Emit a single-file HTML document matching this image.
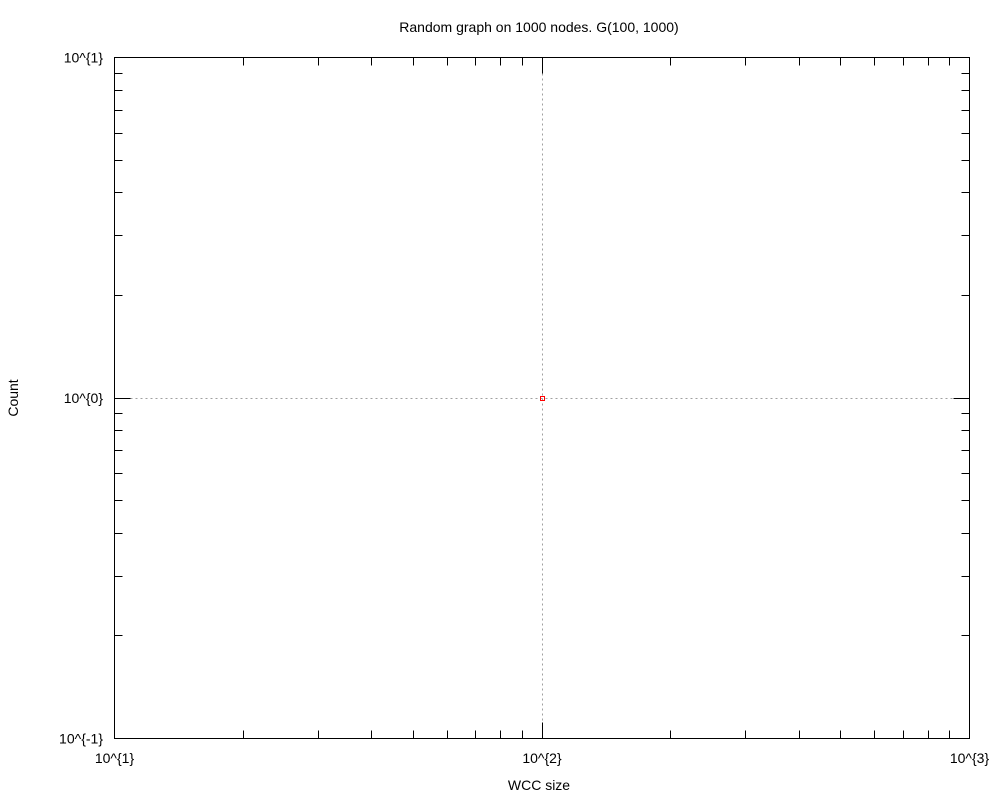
<!DOCTYPE html>
<html><head><meta charset="utf-8"><style>
html,body{margin:0;padding:0;background:#fff;}
svg{display:block;font-family:"Liberation Sans",Arial,sans-serif;font-size:14px;}
</style></head><body>
<svg id="chart" width="1000" height="800" viewBox="0 0 1000 800">
<text x="539" y="32" text-anchor="middle" fill="#000">Random graph on 1000 nodes. G(100, 1000)</text>
<text x="539" y="790" text-anchor="middle" fill="#000">WCC size</text>
<text transform="translate(18,398) rotate(-90)" text-anchor="middle" fill="#000">Count</text>
<g id="grid"></g><g id="ticks"></g><g id="labels"></g>
<rect x="114.5" y="57.5" width="855" height="681" fill="none" stroke="#000" stroke-width="1"/>
<g id="points"></g>
</svg>
<script>
const xTickExps = [1, 2, 3];
const yTickExps = [-1, 0, 1];
const xTickLabels = ["10^{1}", "10^{2}", "10^{3}"];
const yTickLabels = ["10^{-1}", "10^{0}", "10^{1}"];
const wccSizes = [100];
const counts = [1];
const NS = "http://www.w3.org/2000/svg";
const L = 114.5, R = 969.5, T = 57.5, B = 738.5;
function xs(v){ return L + (Math.log10(v) - 1) / 2 * (R - L); }
function ys(v){ return B - (Math.log10(v) + 1) / 2 * (B - T); }
function px(v){ return Math.floor(v) + 0.5; }
function mk(tag, attrs, parent){ const e = document.createElementNS(NS, tag); for (const k in attrs) e.setAttribute(k, attrs[k]); document.getElementById(parent).appendChild(e); return e; }
xTickExps.forEach(ex => { const x = px(xs(Math.pow(10, ex))); if (ex > 1 && ex < 3) {
  const g = mk('line', {x1:x, x2:x, y1:T+16, y2:B-16, stroke:'#a0a0a0', 'stroke-dasharray':'2,3'}, 'grid');
  
   } });
yTickExps.forEach(ex => { const y = px(ys(Math.pow(10, ex))); if (ex > -1 && ex < 1) {
  const g = mk('line', {x1:L+16, x2:R-16, y1:y, y2:y, stroke:'#a0a0a0', 'stroke-dasharray':'2,3'}, 'grid');
  
   } });
for (let d = 1; d <= 2; d++) for (let m = 1; m <= 10; m++) {
  if ((d === 1 && m === 1) || (d === 2 && m === 10)) continue;
  const v = m * Math.pow(10, d); const len = (m === 1 || m === 10) ? 16 : 8;
  const x = px(xs(v));
  const t1 = mk('line', {x1:x, x2:x, y1:B, y2:B-len, stroke:'#000'}, 'ticks');
  
  
  const t2 = mk('line', {x1:x, x2:x, y1:T, y2:T+len, stroke:'#000'}, 'ticks');
  
  
}
for (let d = -1; d <= 0; d++) for (let m = 1; m <= 10; m++) {
  if ((d === -1 && m === 1) || (d === 0 && m === 10)) continue;
  const v = m * Math.pow(10, d); const len = (m === 1 || m === 10) ? 16 : 8;
  const y = px(ys(v));
  const t1 = mk('line', {x1:L, x2:L+len, y1:y, y2:y, stroke:'#000'}, 'ticks');
  
  
  const t2 = mk('line', {x1:R, x2:R-len, y1:y, y2:y, stroke:'#000'}, 'ticks');
  
  
}
xTickExps.forEach((ex, i) => {
  const t = mk('text', {x: xs(Math.pow(10, ex)), y: 763, 'text-anchor':'middle', fill:'#000'}, 'labels');
  t.textContent = xTickLabels[i];
  
  
});
yTickExps.forEach((ex, i) => {
  const t = mk('text', {x: 103, y: ys(Math.pow(10, ex)) + 5, 'text-anchor':'end', fill:'#000'}, 'labels');
  t.textContent = yTickLabels[i];
  
  
});
wccSizes.forEach((s, i) => {
  const p = mk('rect', {x: Math.floor(xs(s)) - 1.5, y: Math.floor(ys(counts[i])) - 1.5, width: 4, height: 4, fill:'none', stroke:'#ff0000', 'stroke-width':1}, 'points');
  
  
});
</script>
</body></html>
